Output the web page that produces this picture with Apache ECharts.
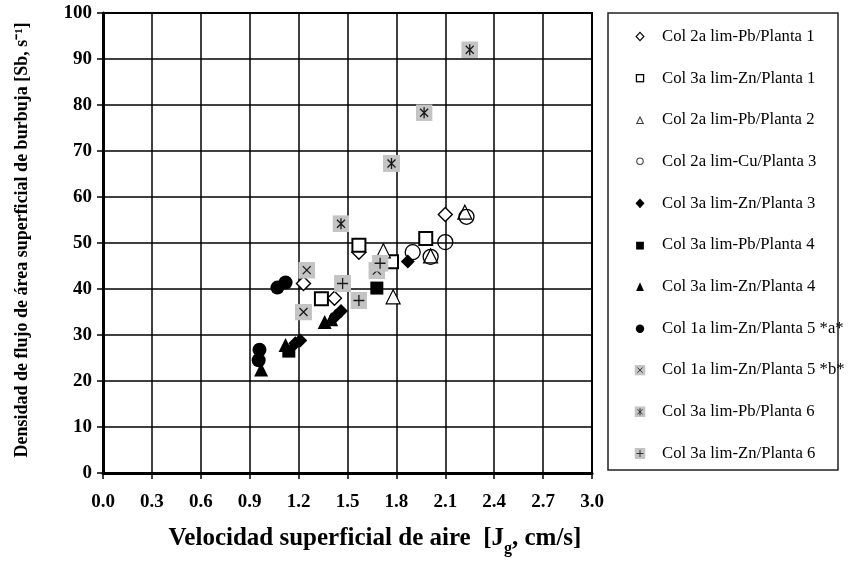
<!DOCTYPE html>
<html><head><meta charset="utf-8">
<script src="https://cdn.jsdelivr.net/npm/echarts@6/dist/echarts.min.js"></script>
<style>html,body{margin:0;padding:0;background:#fff}#c{width:849px;height:561px}</style>
</head><body><div id="c"></div>
<script>
// ---- data ----
const xTicks = ['0.0','0.3','0.6','0.9','1.2','1.5','1.8','2.1','2.4','2.7','3.0'];
const yTicks = [0,10,20,30,40,50,60,70,80,90,100];
const seriesNames = [
  'Col 2a lim-Pb/Planta 1','Col 3a lim-Zn/Planta 1','Col 2a lim-Pb/Planta 2','Col 2a lim-Cu/Planta 3',
  'Col 3a lim-Zn/Planta 3','Col 3a lim-Pb/Planta 4','Col 3a lim-Zn/Planta 4','Col 1a lim-Zn/Planta 5 *a*',
  'Col 1a lim-Zn/Planta 5 *b*','Col 3a lim-Pb/Planta 6','Col 3a lim-Zn/Planta 6'];
const pbPlanta1 = [[2.10,56.2],[1.57,48.0],[1.42,38.0],[1.23,41.2]];
const znPlanta1 = [[1.34,37.9],[1.57,49.5],[1.98,51.0],[1.77,45.9]];
const pbPlanta2 = [[2.22,56.7],[2.01,47.2],[1.78,38.3],[1.72,48.3]];
const cuPlanta3 = [[2.23,55.7],[2.10,50.2],[1.90,48.0],[2.01,47.0]];
const znPlanta3 = [[1.87,46.0],[1.21,28.8],[1.18,28.2],[1.43,34.2],[1.46,35.2]];
const pbPlanta4 = [[1.14,26.5],[1.68,40.2]];
const znPlanta4 = [[0.97,22.5],[1.12,27.8],[1.36,32.8],[1.40,33.4]];
const znPlanta5a = [[0.96,26.8],[0.955,24.5],[1.07,40.3],[1.12,41.4]];
const znPlanta5b = [[1.25,44.1],[1.23,35.0],[1.68,44.0]];
const pbPlanta6 = [[1.46,54.2],[1.77,67.3],[1.97,78.3],[2.25,92.0]];
const znPlanta6 = [[1.47,41.2],[1.57,37.5],[1.70,45.6]];

function svgImg(inner){
  const s = "<svg xmlns='http://www.w3.org/2000/svg' width='34' height='34' viewBox='0 0 34 34'>" + inner + "</svg>";
  return 'image://data:image/svg+xml;charset=utf-8,' + encodeURIComponent(s);
}
function graySym(path){
  return svgImg("<rect width='34' height='34' fill='#c4c4c4'/><path d='" + path + "' stroke='#1a1a1a' stroke-width='2.6' fill='none'/>");
}
const symX = graySym('M9 9L25 25M25 9L9 25');
const symAst = graySym('M9 9L25 25M25 9L9 25M17 6V28');
const symPlus = graySym('M17 6V28M6 17H28');

// legend icons (34x34 viewBox, shapes sized to look like the reference key)
const lgIcons = [
  svgImg("<path d='M17 4L29 17L17 30L5 17Z' fill='#fff' stroke='#000' stroke-width='3.5'/>"),
  svgImg("<rect x='6' y='6' width='22' height='22' fill='#fff' stroke='#000' stroke-width='4'/>"),
  svgImg("<path d='M17 8L27 28L7 28Z' fill='#fff' stroke='#444' stroke-width='3.5'/>"),
  svgImg("<circle cx='17' cy='16' r='10' fill='#fff' stroke='#444' stroke-width='3.5'/>"),
  svgImg("<path d='M17 2L31 17L17 32L3 17Z' fill='#000'/>"),
  svgImg("<rect x='5' y='7' width='24' height='24' fill='#000'/>"),
  svgImg("<path d='M17 3L29 30L5 30Z' fill='#000'/>"),
  svgImg("<circle cx='17' cy='18' r='13' fill='#000'/>"),
  symX, symAst, symPlus
];

const openStyle = w => ({color:'#fff', borderColor:'#000', borderWidth:w, opacity:1});
const fillStyle = {color:'#000', borderColor:'#000', borderWidth:0, opacity:1};

const defs = [
  {data:pbPlanta1, symbol:'diamond', size:14, style:openStyle(1.4)},
  {data:znPlanta1, symbol:'rect', size:13, style:openStyle(2)},
  {data:pbPlanta2, symbol:'triangle', size:14, style:openStyle(1.2)},
  {data:cuPlanta3, symbol:'circle', size:15, style:{color:'rgba(255,255,255,0)', borderColor:'#000', borderWidth:1.3, opacity:1}},
  {data:znPlanta3, symbol:'diamond', size:14, style:fillStyle},
  {data:pbPlanta4, symbol:'rect', size:13, style:fillStyle},
  {data:znPlanta4, symbol:'triangle', size:14, style:fillStyle},
  {data:znPlanta5a, symbol:'circle', size:14, style:fillStyle},
  {data:znPlanta5b, symbol:symX, size:17, style:{opacity:1}},
  {data:pbPlanta6, symbol:symAst, size:17, style:{opacity:1}},
  {data:znPlanta6, symbol:symPlus, size:17, style:{opacity:1}}
];

const series = defs.map((d,i)=>({
  type:'scatter', name:seriesNames[i], data:d.data, symbol:d.symbol, symbolSize:d.size,
  itemStyle:d.style, z:2+i*0.01
}));

const chart = echarts.init(document.getElementById('c'), null, {renderer:'canvas'});
chart.setOption({
  animation:false,
  backgroundColor:'#fff',
  grid:{left:103, right:257, top:13, bottom:88, show:true, borderColor:'#000', borderWidth:2},
  xAxis:{type:'value', min:0, max:3, interval:0.3,
    axisLine:{show:true, onZero:false, lineStyle:{color:'#000', width:3}},
    axisTick:{show:true, length:6, inside:false, lineStyle:{color:'#000', width:1.5}},
    splitLine:{show:true, lineStyle:{color:'#000', width:1.5}},
    axisLabel:{margin:20, color:'#000', fontFamily:'Liberation Serif', fontWeight:'bold', fontSize:19,
      formatter:(v)=>{const i=Math.round(v/0.3); return xTicks[i]!==undefined?xTicks[i]:'';}}
  },
  yAxis:{type:'value', min:0, max:100, interval:10,
    axisLine:{show:true, onZero:false, lineStyle:{color:'#000', width:3}},
    axisTick:{show:true, length:6, lineStyle:{color:'#000', width:1.5}},
    splitLine:{show:true, lineStyle:{color:'#000', width:1.5}},
    axisLabel:{margin:11, color:'#000', fontFamily:'Liberation Serif', fontWeight:'bold', fontSize:19,
      formatter:(v)=>yTicks.indexOf(v)>=0?String(v):''}
  },
  legend:{orient:'vertical', left:623, top:28, padding:0, itemWidth:34, itemHeight:11, itemGap:24.7,
    textStyle:{color:'#000', fontFamily:'Liberation Serif', fontSize:16.7, lineHeight:17},
    data:seriesNames.map((n,i)=>({name:n, icon:lgIcons[i]})), selectedMode:false},
  graphic:[
    {type:'rect', x:608, y:13, shape:{x:0,y:0,width:230,height:457}, z:-1,
      style:{fill:'#fff', stroke:'#222', lineWidth:1.5}},
    {type:'text', z:10, x:375, y:539,
      style:{text:'{t|Velocidad superficial de aire  [J}{s|g}{t|, cm/s]}', align:'center', verticalAlign:'middle',
        rich:{t:{fontFamily:'Liberation Serif', fontWeight:'bold', fontSize:25, fill:'#000', verticalAlign:'bottom'},
              s:{fontFamily:'Liberation Serif', fontWeight:'bold', fontSize:16, fill:'#000', verticalAlign:'bottom', padding:[0,0,-5,0]}}}},
    {type:'text', z:10, x:22, y:240, rotation:Math.PI/2,
      style:{text:'Densidad de flujo de área superficial de burbuja [Sb, s⁻¹]', align:'center', verticalAlign:'middle',
        fontFamily:'Liberation Serif', fontWeight:'bold', fontSize:18, fill:'#000'}}
  ],
  series:series
});
</script></body></html>
